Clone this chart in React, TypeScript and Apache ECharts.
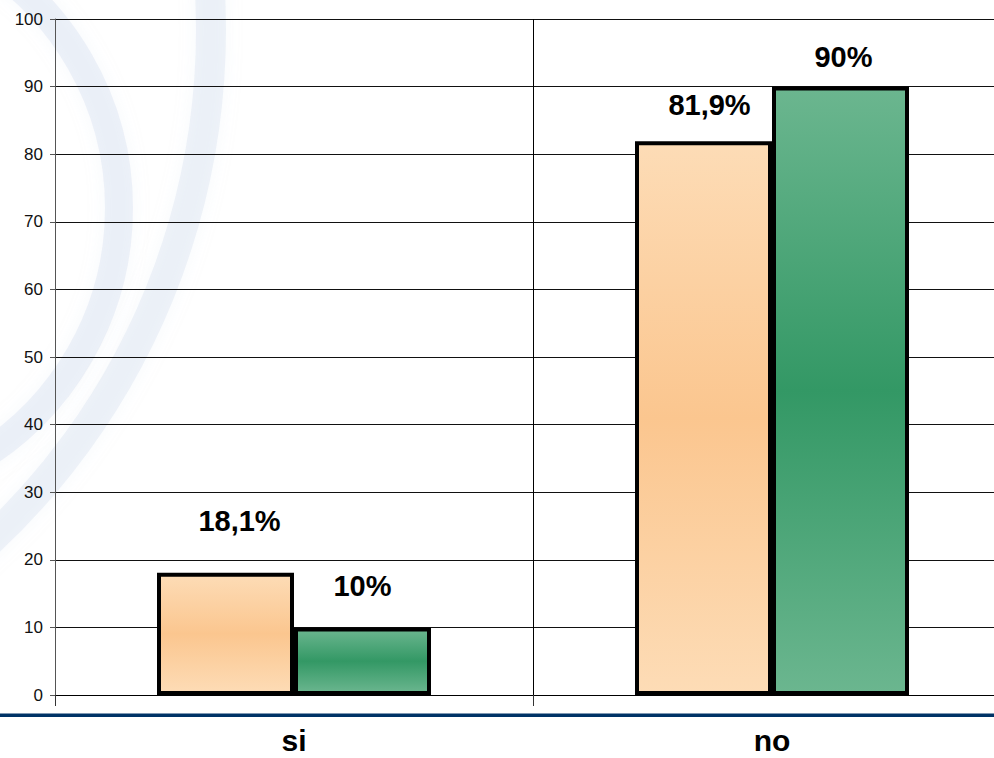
import React, { useEffect, useRef } from "react";
import * as echarts from "echarts";

const categories = ["si", "no"];
const seriesA = [18.1, 81.9];
const seriesB = [10, 90];
const labelsA = ["18,1%", "81,9%"];
const labelsB = ["10%", "90%"];
const yTicks = { min: 0, max: 100, interval: 10 };

// label placement tweaks (style only)
const shiftA = [
  { dx: 14, dist: 37 },
  { dx: 6, dist: 22 },
];
const shiftB = [
  { dx: 0, dist: 27 },
  { dx: 3, dist: 15 },
];

const orangeGrad = new echarts.graphic.LinearGradient(0, 0, 0, 1, [
  { offset: 0, color: "#FDDCB6" },
  { offset: 0.5, color: "#FBC68F" },
  { offset: 1, color: "#FDDCB6" },
]);
const greenGrad = new echarts.graphic.LinearGradient(0, 0, 0, 1, [
  { offset: 0, color: "#6BB68F" },
  { offset: 0.5, color: "#339865" },
  { offset: 1, color: "#6BB68F" },
]);

export default function App() {
  const ref = useRef<HTMLDivElement>(null);
  useEffect(() => {
    if (!ref.current) return;
    const chart = echarts.init(ref.current, null, { renderer: "svg" });
    const labelStyle = {
      show: true,
      position: "top",
      fontFamily: "Liberation Sans, Arial, sans-serif",
      fontWeight: "bold",
      fontSize: 29,
      color: "#000",
    };
    const mk = (vals: number[], labels: string[], shifts: any[]) =>
      vals.map((v, i) => ({
        value: v,
        label: {
          ...labelStyle,
          formatter: labels[i],
          distance: shifts[i].dist,
          offset: [shifts[i].dx, 0],
        },
      }));
    chart.setOption({
      animation: false,
      backgroundColor: "#fff",
      graphic: [
        {
          type: "arc",
          z: -10,
          silent: true,
          shape: { cx: -175, cy: 208, r: 294, startAngle: -Math.PI / 3, endAngle: Math.PI / 3 },
          style: {
            fill: "none",
            stroke: "rgba(205,218,236,0.32)",
            lineWidth: 28,
            shadowBlur: 16,
            shadowColor: "rgba(205,218,236,0.5)",
          },
        },
        {
          type: "arc",
          z: -10,
          silent: true,
          shape: { cx: -489, cy: 30, r: 700, startAngle: -0.2, endAngle: 0.9 },
          style: {
            fill: "none",
            stroke: "rgba(205,218,236,0.3)",
            lineWidth: 30,
            shadowBlur: 16,
            shadowColor: "rgba(205,218,236,0.5)",
          },
        },
        {
          type: "rect",
          z: 10,
          shape: { x: 0, y: 713.5, width: 994, height: 3.5 },
          style: { fill: "#003366" },
        },
      ],
      grid: { left: 55, top: 19, right: 19, height: 676, containLabel: false },
      xAxis: {
        type: "category",
        data: categories,
        boundaryGap: true,
        axisLine: { show: true, lineStyle: { color: "#000", width: 1 } },
        axisTick: { show: true, interval: 0, length: 11, lineStyle: { color: "#333" } },
        splitLine: { show: true, interval: 0, lineStyle: { color: "#000", width: 1 } },
        axisLabel: {
          interval: 0,
          margin: 32,
          lineHeight: 26,
          fontFamily: "Liberation Sans, Arial, sans-serif",
          fontWeight: "bold",
          fontSize: 30,
          color: "#000",
        },
      },
      yAxis: {
        type: "value",
        min: yTicks.min,
        max: yTicks.max,
        interval: yTicks.interval,
        axisLine: { show: true, lineStyle: { color: "#555", width: 1 } },
        axisTick: { show: true, length: 5, lineStyle: { color: "#555" } },
        splitLine: { show: true, lineStyle: { color: "#111", width: 1 } },
        axisLabel: {
          margin: 12,
          fontFamily: "Liberation Sans, Arial, sans-serif",
          fontSize: 17,
          color: "#111",
        },
      },
      series: [
        {
          type: "bar",
          data: mk(seriesA, labelsA, shiftA),
          barWidth: 137,
          barGap: "0%",
          itemStyle: { color: orangeGrad, borderColor: "#000", borderWidth: 4 },
        },
        {
          type: "bar",
          data: mk(seriesB, labelsB, shiftB),
          barWidth: 137,
          barGap: "0%",
          itemStyle: { color: greenGrad, borderColor: "#000", borderWidth: 4 },
        },
      ],
    });
    return () => chart.dispose();
  }, []);
  return (
    <div style={{ position: "fixed", left: 0, top: 0, width: 994, height: 758, overflow: "hidden", background: "#fff" }}>
      <div ref={ref} style={{ width: 1030, height: 758 }} />
    </div>
  );
}
